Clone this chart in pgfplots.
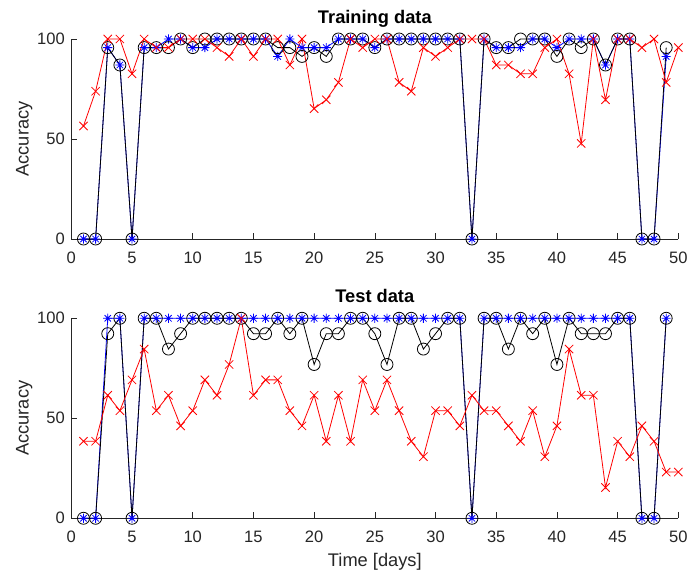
\documentclass[border=0pt]{standalone}
\usepackage{pgfplots}
\usepackage{pgfplotstable}
\pgfplotsset{compat=1.18}
\usepackage{fontspec}
\setmainfont{Liberation Sans}
\definecolor{axgray}{rgb}{0.15,0.15,0.15}

% MATLAB-style '*' marker: a plus and a cross on top of each other
\pgfdeclareplotmark{mstar}{%
  \pgfpathmoveto{\pgfqpoint{0pt}{\pgfplotmarksize}}%
  \pgfpathlineto{\pgfqpoint{0pt}{-\pgfplotmarksize}}%
  \pgfpathmoveto{\pgfqpoint{\pgfplotmarksize}{0pt}}%
  \pgfpathlineto{\pgfqpoint{-\pgfplotmarksize}{0pt}}%
  \pgfpathmoveto{\pgfqpoint{.707\pgfplotmarksize}{.707\pgfplotmarksize}}%
  \pgfpathlineto{\pgfqpoint{-.707\pgfplotmarksize}{-.707\pgfplotmarksize}}%
  \pgfpathmoveto{\pgfqpoint{-.707\pgfplotmarksize}{.707\pgfplotmarksize}}%
  \pgfpathlineto{\pgfqpoint{.707\pgfplotmarksize}{-.707\pgfplotmarksize}}%
  \pgfusepathqstroke}

% d: day; a*: training, b*: test; k black (o), b blue (*), r red (x)
\pgfplotstableread{
d  ak   ab   ar   bk   bb   br
1  0    0    56.5 0    0    38.5
2  0    0    73.9 0    0    38.5
3  95.7 95.7 100  92.3 100  61.5
4  87.0 87.0 100  100  100  53.8
5  0    0    82.6 0    0    69.2
6  95.7 95.7 100  100  100  84.6
7  95.7 95.7 95.7 100  100  53.8
8  95.7 100  95.7 84.6 100  61.5
9  100  100  100  92.3 100  46.2
10 95.7 95.7 100  100  100  53.8
11 100  95.7 100  100  100  69.2
12 100  100  95.7 100  100  61.5
13 100  100  91.3 100  100  76.9
14 100  100  100  100  100  100
15 100  100  91.3 92.3 100  61.5
16 100  100  100  92.3 100  69.2
17 95.7 91.3 100  100  100  69.2
18 95.7 100  87.0 92.3 100  53.8
19 91.3 95.7 100  100  100  46.2
20 95.7 95.7 65.2 76.9 100  61.5
21 91.3 95.7 69.6 92.3 100  38.5
22 100  100  78.3 92.3 100  61.5
23 100  100  100  100  100  38.5
24 100  100  95.7 100  100  69.2
25 95.7 95.7 100  92.3 100  53.8
26 100  100  100  76.9 100  69.2
27 100  100  78.3 100  100  53.8
28 100  100  73.9 100  100  38.5
29 100  100  95.7 84.6 100  30.8
30 100  100  91.3 92.3 100  53.8
31 100  100  95.7 100  100  53.8
32 100  100  100  100  100  46.2
33 0    0    100  0    0    61.5
34 100  100  100  100  100  53.8
35 95.7 95.7 87.0 100  100  53.8
36 95.7 95.7 87.0 84.6 100  46.2
37 100  95.7 82.6 100  100  38.5
38 100  100  82.6 92.3 100  53.8
39 100  100  95.7 100  100  30.8
40 91.3 95.7 100  76.9 100  46.2
41 100  100  82.6 100  100  84.6
42 95.7 100  47.8 92.3 100  61.5
43 100  100  100  92.3 100  61.5
44 87.0 87.0 69.6 92.3 100  15.4
45 100  100  100  100  100  38.5
46 100  100  100  100  100  30.8
47 0    0    95.7 0    0    46.2
48 0    0    100  0    0    38.5
49 95.7 91.3 78.3 100  100  23.1
50 nan  nan  95.7 nan  nan  23.1
}\acc

\pgfplotsset{
  matstyle/.style={
    scale only axis, width=455.25pt, height=150pt,
    xmin=0, xmax=50, ymin=0, ymax=100,
    xtick={0,5,...,50}, ytick={0,50,100},
    axis x line*=bottom, axis y line*=left,
    tick align=inside,
    axis line style={axgray, line width=0.5pt},
    major tick style={axgray, line width=0.5pt},
    major tick length=4.5pt,
    tick label style={font=\fontsize{12.4}{14}\selectfont, text=axgray},
    xticklabel style={anchor=base, yshift=-18.5pt},
    yticklabel style={xshift=-1.4pt},
    /pgf/number format/assume math mode=true,
    label style={font=\fontsize{13.7}{16}\selectfont, text=axgray},
    ylabel={Accuracy},
    ylabel style={at={(axis description cs:-0.0703,0.5)}, anchor=base},
    title style={font=\bfseries\fontsize{13.7}{16}\selectfont,
      at={(0.5,1)}, anchor=base, yshift=6pt},
    clip=false,
  },
  kline/.style={black, line width=0.6pt, mark=o, mark size=4.5pt},
  bline/.style={blue, line width=0.6pt, mark=mstar, mark size=3.4pt},
  rline/.style={red, line width=0.6pt, mark=x, mark size=4.4pt},
}

\begin{document}
\begin{tikzpicture}
\useasboundingbox (0,0) rectangle (516.75pt,-429pt);

\begin{axis}[matstyle, at={(53.5pt,-179.25pt)}, anchor=south west,
  title={Training data}]
\addplot[bline] table[x=d, y=ab] {\acc};
\addplot[kline] table[x=d, y=ak] {\acc};
\addplot[rline] table[x=d, y=ar] {\acc};
\end{axis}

\begin{axis}[matstyle, at={(53.5pt,-388.7pt)}, anchor=south west,
  title={Test data}, xlabel={Time [days]},
  xlabel style={at={(axis description cs:0.5,0)}, anchor=base, yshift=-36pt}]
\addplot[bline] table[x=d, y=bb] {\acc};
\addplot[kline] table[x=d, y=bk] {\acc};
\addplot[rline] table[x=d, y=br] {\acc};
\end{axis}
\end{tikzpicture}
\end{document}
